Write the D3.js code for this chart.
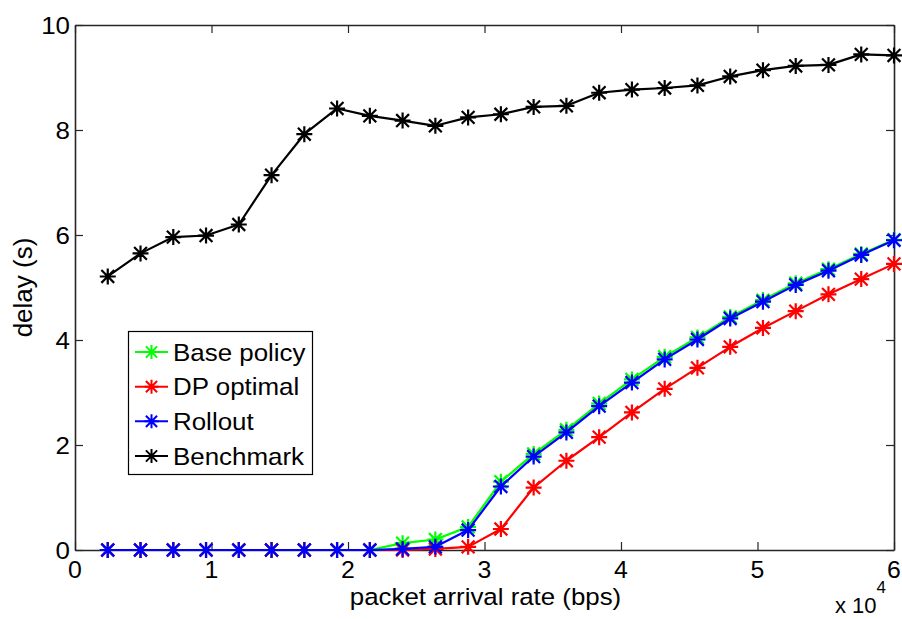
<!DOCTYPE html>
<html>
<head>
<meta charset="utf-8">
<script src="https://cdn.jsdelivr.net/npm/d3@7"></script>
<style>
  html, body { margin: 0; padding: 0; background: #fff; }
  text { font-family: "Liberation Sans", Arial, Helvetica, sans-serif; fill: #000; }
</style>
</head>
<body>
<svg id="chart" width="902" height="619"></svg>
<script>
// ---- data ----
const rates = [2400, 4800, 7200, 9600, 12000, 14400, 16800, 19200, 21600, 24000,
               26400, 28800, 31200, 33600, 36000, 38400, 40800, 43200, 45600, 48000,
               50400, 52800, 55200, 57600, 60000];
const basePolicy = [0, 0, 0, 0, 0, 0, 0, 0, 0, 0.13, 0.20, 0.44, 1.30, 1.83, 2.29, 2.79,
                    3.25, 3.68, 4.05, 4.44, 4.76, 5.08, 5.35, 5.64, 5.91];
const dpOptimal = [0, 0, 0, 0, 0, 0, 0, 0, 0, 0.0, 0.02, 0.06, 0.40, 1.19, 1.70, 2.15,
                   2.62, 3.07, 3.47, 3.87, 4.23, 4.55, 4.87, 5.16, 5.45];
const rollout = [0, 0, 0, 0, 0, 0, 0, 0, 0, 0.02, 0.06, 0.38, 1.21, 1.78, 2.24, 2.74,
                 3.19, 3.63, 4.01, 4.41, 4.73, 5.05, 5.32, 5.62, 5.90];
const benchmark = [5.21, 5.65, 5.96, 5.99, 6.20, 7.14, 7.92, 8.41, 8.27, 8.18, 8.08, 8.24,
                   8.30, 8.44, 8.46, 8.71, 8.77, 8.80, 8.85, 9.02, 9.14, 9.22, 9.24, 9.44, 9.42];
const seriesNames = ["Base policy", "DP optimal", "Rollout", "Benchmark"];
const seriesColors = ["#00ff00", "#ff0000", "#0000ff", "#000000"];
const xTicks = [0, 10000, 20000, 30000, 40000, 50000, 60000];
const xTickLabels = ["0", "1", "2", "3", "4", "5", "6"];
const yTicks = [0, 2, 4, 6, 8, 10];
const yTickLabels = ["0", "2", "4", "6", "8", "10"];
const xLabel = "packet arrival rate (bps)";
const yLabel = "delay (s)";

// ---- layout ----
const svg = d3.select("#chart");
const L = 75, R = 894, T = 25, B = 550;
const x = d3.scaleLinear().domain([0, 60000]).range([L, R]);
const y = d3.scaleLinear().domain([0, 10]).range([B, T]);
const FS = 24, SX = 1.08;
const axisColor = "#262626";

svg.append("rect").attr("width", 902).attr("height", 619).attr("fill", "#fff");

// axes (box with inward ticks)
const tickLen = 8;
const axG = svg.append("g");
const xAxisB = d3.axisBottom(x).tickValues(xTicks).tickSizeInner(-tickLen).tickSizeOuter(0).tickFormat(() => "");
const xAxisT = d3.axisTop(x).tickValues(xTicks).tickSizeInner(-tickLen).tickSizeOuter(0).tickFormat(() => "");
const yAxisL = d3.axisLeft(y).tickValues(yTicks).tickSizeInner(-tickLen).tickSizeOuter(0).tickFormat(() => "");
const yAxisR = d3.axisRight(y).tickValues(yTicks).tickSizeInner(-tickLen).tickSizeOuter(0).tickFormat(() => "");
axG.append("g").attr("transform", `translate(0,${B})`).call(xAxisB);
axG.append("g").attr("transform", `translate(0,${T})`).call(xAxisT);
axG.append("g").attr("transform", `translate(${L},0)`).call(yAxisL);
axG.append("g").attr("transform", `translate(${R},0)`).call(yAxisR);
axG.selectAll(".domain").attr("stroke", axisColor).attr("stroke-width", 1.6);
axG.selectAll(".tick line").attr("stroke", axisColor).attr("stroke-width", 1.2);

// tick labels
xTicks.forEach((v, i) => {
  svg.append("text")
    .attr("transform", `translate(${x(v)},578) scale(${SX},1)`)
    .attr("text-anchor", "middle").attr("font-size", 23)
    .text(xTickLabels[i]);
});
yTicks.forEach((v, i) => {
  svg.append("text")
    .attr("transform", `translate(70,${y(v)}) scale(${SX},1)`)
    .attr("text-anchor", "end").attr("dominant-baseline", "central").attr("font-size", FS)
    .text(yTickLabels[i]);
});

// axis labels
svg.append("text")
  .attr("transform", `translate(${(L + R) / 2 + 1},605) scale(1.1,1)`)
  .attr("text-anchor", "middle").attr("font-size", 23.5)
  .text(xLabel);
svg.append("text")
  .attr("transform", `translate(32,${(T + B) / 2}) rotate(-90)`)
  .attr("text-anchor", "middle").attr("font-size", 26)
  .text(yLabel);
// exponent
const ex = svg.append("text")
  .attr("transform", `translate(835,613)`)
  .attr("font-size", 22);
ex.append("tspan").text("x 10");
ex.append("tspan").attr("dy", -20).attr("font-size", 17).text("4");

// marker path (asterisk: plus + x)
function star(s) {
  const d = s * 0.8;
  return `M0,${-s}L0,${s}M${-s},0L${s},0M${-d},${-d}L${d},${d}M${-d},${d}L${d},${-d}`;
}

const allSeries = [basePolicy, dpOptimal, rollout, benchmark];
const line = d3.line().x((d, i) => x(rates[i])).y(d => y(d));
allSeries.forEach((vals, si) => {
  const g = svg.append("g");
  g.append("path").datum(vals)
    .attr("d", line).attr("fill", "none")
    .attr("stroke", seriesColors[si]).attr("stroke-width", 2.2)
    .attr("stroke-linejoin", "round");
  g.selectAll("path.m").data(vals).enter().append("path")
    .attr("class", "m")
    .attr("transform", (d, i) => `translate(${x(rates[i])},${y(d)})`)
    .attr("d", star(8))
    .attr("stroke", seriesColors[si]).attr("stroke-width", 2.2).attr("fill", "none");
});

// legend
const lg = svg.append("g");
lg.append("rect").attr("x", 128.5).attr("y", 331.5).attr("width", 184).attr("height", 143)
  .attr("fill", "#fff").attr("stroke", "#000").attr("stroke-width", 1.2);
const rowY = d3.scaleLinear().domain([0, 3]).range([352, 456]);
seriesNames.forEach((name, i) => {
  const yy = rowY(i);
  lg.append("line").attr("x1", 135).attr("x2", 168).attr("y1", yy).attr("y2", yy)
    .attr("stroke", seriesColors[i]).attr("stroke-width", 2);
  lg.append("path").attr("transform", `translate(151.5,${yy})`).attr("d", star(7))
    .attr("stroke", seriesColors[i]).attr("stroke-width", 2).attr("fill", "none");
  lg.append("text")
    .attr("transform", `translate(173,${yy}) scale(${SX},1)`)
    .attr("dominant-baseline", "central").attr("font-size", FS)
    .text(name);
});
</script>
</body>
</html>
